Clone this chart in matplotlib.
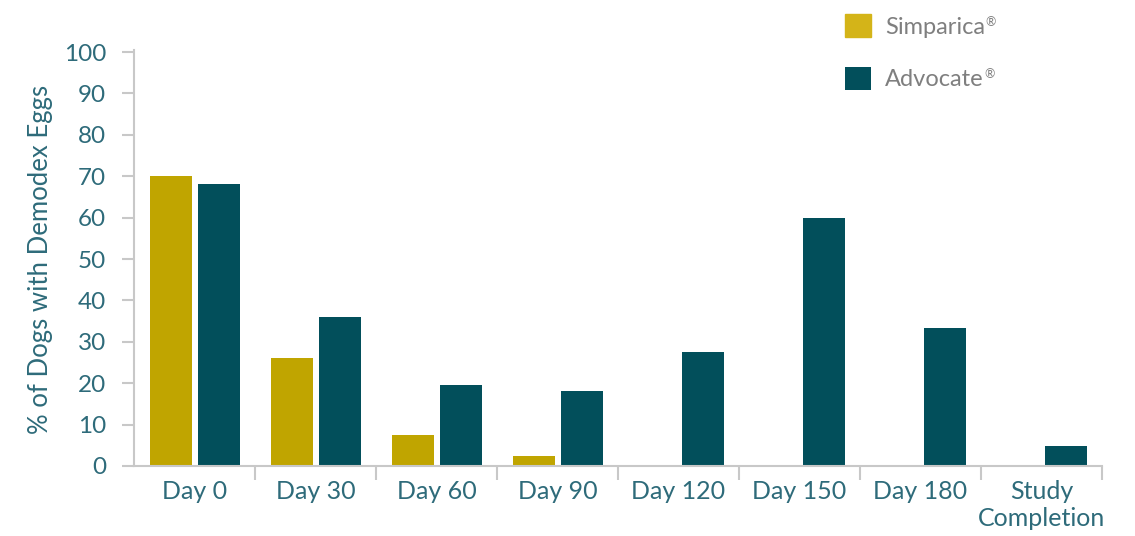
import numpy as np
import matplotlib.pyplot as plt
from matplotlib.ticker import FixedLocator

plt.rcParams['font.family'] = ['Lato', 'DejaVu Sans']

# --- data ---
categories = ['Day 0', 'Day 30', 'Day 60', 'Day 90', 'Day 120', 'Day 150',
              'Day 180', 'Study\nCompletion']
simparica = [70, 26, 7.5, 2.4, 0, 0, 0, 0]
advocate = [68, 36, 19.5, 18, 27.5, 60, 33.3, 4.8]
series_names = ['Simparica', 'Advocate']
y_ticks = list(range(0, 101, 10))

gold = '#C0A500'
teal = '#024F5B'
text_teal = '#2E6B7A'
grey_line = '#C8C8C8'

fig = plt.figure(figsize=(11.35, 5.36), dpi=100)
ax = fig.add_axes([134 / 1135, 70 / 536, (1102 - 134) / 1135, 414 / 536])

x = np.arange(len(categories))
w = 0.35
ax.bar(x - 0.195, simparica, width=w, color=gold, label=series_names[0])
ax.bar(x + 0.2, advocate, width=w, color=teal, label=series_names[1])

ax.set_xlim(-0.5, len(categories) - 0.5)
ax.set_ylim(0, 100)

for s in ['top', 'right']:
    ax.spines[s].set_visible(False)
for s in ['left', 'bottom']:
    ax.spines[s].set_color(grey_line)
    ax.spines[s].set_linewidth(1.5)
ax.spines['left'].set_bounds(0, 100.5)

ax.set_yticks(y_ticks)
ax.tick_params(axis='y', length=9, width=1.5, color=grey_line, pad=11,
               labelsize=17.5, labelcolor=text_teal)

ax.set_xticks(x)
ax.set_xticklabels(categories, linespacing=1.2)
ax.xaxis.set_minor_locator(FixedLocator(np.arange(0.5, len(categories), 1)))
ax.tick_params(axis='x', which='major', length=0, pad=10,
               labelsize=18, labelcolor=text_teal)
ax.tick_params(axis='x', which='minor', length=10, width=1.5, color=grey_line)

ax.set_ylabel('% of Dogs with Demodex Eggs', fontsize=18.5, color=text_teal,
              labelpad=8)

leg = fig.legend(loc='upper left', bbox_to_anchor=(836 / 1135, 1 - 5 / 536),
                 frameon=False, fontsize=17, handlelength=1.08,
                 handleheight=1.08, handletextpad=0.6, labelspacing=1.25,
                 borderaxespad=0)
leg.legend_handles[0].set_color('#D4B418')
for t in leg.get_texts():
    t.set_color('#7F7F7F')

# registered-trademark marks after each legend label
fig.canvas.draw()
for t in leg.get_texts():
    bb = t.get_window_extent()
    fig.text((bb.x1 + 0.5) / fig.bbox.width, (bb.y1 + 1) / fig.bbox.height,
             '\u00ae', fontsize=9, color='#7F7F7F', ha='left', va='top')

fig.savefig('out.png', dpi=100)
